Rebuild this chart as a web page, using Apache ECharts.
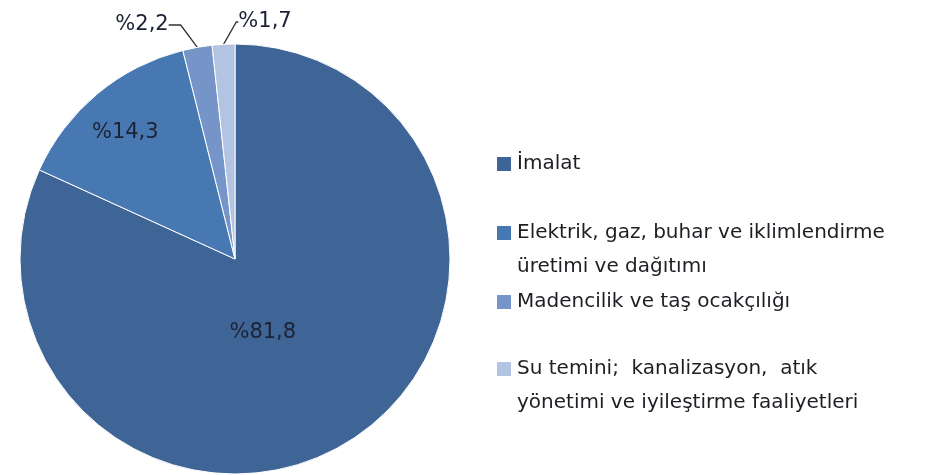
<!DOCTYPE html>
<html>
<head>
<meta charset="utf-8">
<script src="https://cdn.jsdelivr.net/npm/echarts@6/dist/echarts.min.js"></script>
<style>
html,body{margin:0;padding:0;background:#fff;}
#chart{width:930px;height:475px;}
</style>
</head>
<body>
<div id="chart"></div>
<script>
const categories = [
  'İmalat',
  'Elektrik, gaz, buhar ve iklimlendirme\nüretimi ve dağıtımı',
  'Madencilik ve taş ocakçılığı',
  'Su temini;  kanalizasyon,  atık\nyönetimi ve iyileştirme faaliyetleri'
];
const values = [81.8, 14.3, 2.2, 1.7];
const valueLabels = ['%81,8', '%14,3', '%2,2', '%1,7'];
const colors = ['#3F6597', '#4878B1', '#7595C8', '#B3C4E2'];

const labelOpts = [
  { position: 'inside', offset: [-32, -19] },
  { position: 'inside', offset: [-39, -42] },
  { position: 'outside' },
  { position: 'outside' }
];
const lineOpts = [
  {},
  {},
  { length: 8, length2: 12 },
  { length: 6, length2: 2 }
];

const data = categories.map((name, i) => ({
  name: name,
  value: values[i],
  itemStyle: { color: colors[i] },
  label: Object.assign({ show: true }, labelOpts[i]),
  labelLine: lineOpts[i]
}));

const legendTops = [147, 182, 285, 318];
const legends = categories.map((name, i) => ({
  data: [name],
  orient: 'vertical',
  left: 495,
  top: legendTops[i],
  padding: 0,
  icon: 'rect',
  itemWidth: 16,
  itemHeight: 16,
  selectedMode: false,
  formatter: n => (n.indexOf('\n') >= 0 ? '\n' + n : n),
  textStyle: {
    fontFamily: 'DejaVu Sans',
    fontSize: 20,
    color: '#1e1e24',
    lineHeight: 34
  }
}));

const chart = echarts.init(document.getElementById('chart'));
chart.setOption({
  animation: false,
  legend: legends,
  series: [{
    type: 'pie',
    center: [235, 259],
    radius: 215,
    startAngle: 90,
    clockwise: true,
    avoidLabelOverlap: false,
    data: data,
    itemStyle: { borderColor: '#fff', borderWidth: 1 },
    label: {
      formatter: p => valueLabels[p.dataIndex],
      fontFamily: 'DejaVu Sans',
      fontSize: 21,
      color: '#1b2233'
    },
    labelLine: { show: true, lineStyle: { color: '#333', width: 1.3 } },
    labelLayout: function (params) {
      if (params.dataIndex === 2) return { x: 142, y: 25, align: 'center', verticalAlign: 'middle' };
      if (params.dataIndex === 3) return { x: 265, y: 22, align: 'center', verticalAlign: 'middle' };
      return {};
    }
  }]
});
</script>
</body>
</html>
